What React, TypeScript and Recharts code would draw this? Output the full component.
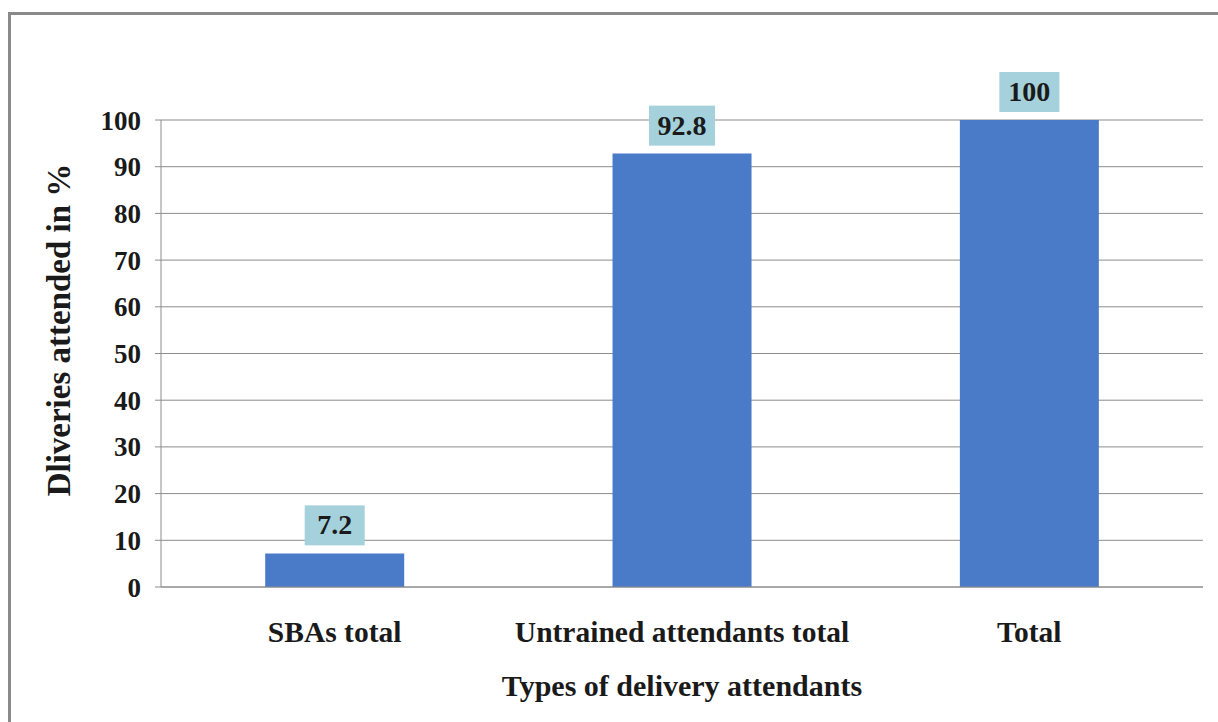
import React from 'react';
import { BarChart, Bar, XAxis, YAxis, CartesianGrid, LabelList } from 'recharts';

const categories = ['SBAs total', 'Untrained attendants total', 'Total'];
const values = [7.2, 92.8, 100];
const yTicks = [0, 10, 20, 30, 40, 50, 60, 70, 80, 90, 100];
const xTitle = 'Types of delivery attendants';
const yTitle = 'Dliveries attended in %';

const data = categories.map((c, i) => ({ name: c, value: values[i] }));

const FONT = '"Liberation Serif", "Times New Roman", serif';

const ValueLabel = (props: any) => {
  const { x, y, width, value } = props;
  const cx = x + width / 2;
  const text = String(value);
  const w = 42 + text.length * 6;
  const h = 40;
  const top = y - 8 - h;
  return (
    <g>
      <rect x={cx - w / 2} y={top} width={w} height={h} fill="#a4d1db" />
      <text x={cx} y={top + h / 2 + 9} textAnchor="middle" fontFamily={FONT} fontWeight="bold" fontSize={28} fill="#1a1a1a">
        {text}
      </text>
    </g>
  );
};

const YTitle = () => (
  <text x={70} y={330} transform="rotate(-90 70 330)" textAnchor="middle" fontFamily={FONT} fontWeight="bold" fontSize={33} fill="#1a1a1a">
    {yTitle}
  </text>
);

export default function App() {
  return (
    <div style={{ position: 'fixed', left: 0, top: 0, width: 1218, height: 722, overflow: 'hidden', background: '#fff' }}>
      <div style={{ position: 'absolute', left: 8, top: 12, width: 1300, height: 800, borderLeft: '3px solid #8a8a8a', borderTop: '3px solid #8a8a8a', boxSizing: 'border-box' }} />
      <div style={{ position: 'absolute', left: 0, top: 0 }}>
        <BarChart width={1218} height={722} data={data} margin={{ top: 120, right: 15, bottom: 0, left: 0 }} barCategoryGap="30%">
          <CartesianGrid vertical={false} stroke="#8c8c8c" strokeWidth={1} />
          <XAxis
            dataKey="name"
            axisLine={{ stroke: '#8c8c8c' }}
            tickLine={false}
            tick={{ fontFamily: FONT, fontWeight: 'bold', fontSize: 29.5, fill: '#1a1a1a' }}
            tickMargin={28}
            height={135}
            label={{ value: xTitle, position: 'insideBottom', offset: 26, style: { fontFamily: FONT, fontWeight: 'bold', fontSize: 30, fill: '#1a1a1a' } }}
          />
          <YAxis
            type="number"
            domain={[0, 100]}
            ticks={yTicks}
            interval={0}
            width={161}
            axisLine={{ stroke: '#8c8c8c' }}
            tickLine={{ stroke: '#8c8c8c' }}
            tickSize={6}
            tickMargin={14}
            tick={{ fontFamily: FONT, fontWeight: 'bold', fontSize: 27, fill: '#1a1a1a' }}
            label={{ content: YTitle }}
          />
          <Bar dataKey="value" fill="#4a7bc8" isAnimationActive={false}>
            <LabelList dataKey="value" content={ValueLabel} />
          </Bar>
        </BarChart>
      </div>
    </div>
  );
}
